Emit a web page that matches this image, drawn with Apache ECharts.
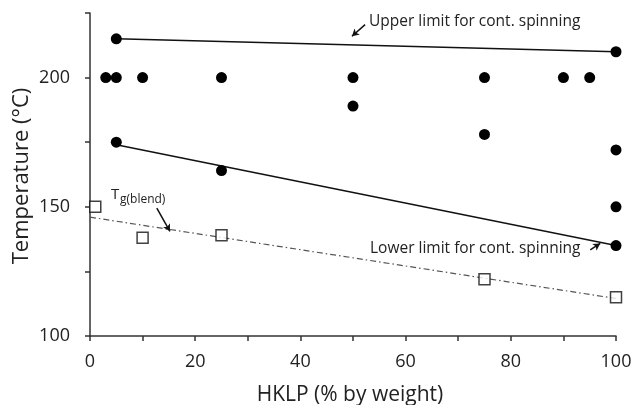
<!DOCTYPE html>
<html><head><meta charset="utf-8">
<script src="https://cdn.jsdelivr.net/npm/echarts@6/dist/echarts.min.js"></script>
<style>html,body{margin:0;padding:0;background:#fff}#c{width:636px;height:405px}</style>
</head><body><div id="c"></div>
<script>
// Spinning trials (filled circles): [HKLP %, temperature °C]
const spinPoints = [
  [5,215],[3,200],[5,200],[10,200],[25,200],[50,200],[75,200],[90,200],[95,200],
  [5,175],[25,164],[50,189],[75,178],[100,210],[100,172],[100,150],[100,135]
];
// Glass transition temperatures (open squares)
const tgPoints = [[1,150],[10,138],[25,139],[75,122],[100,115]];
// Limit lines
const upperLimit = [[5,215],[100,210]];
const lowerLimit = [[5,174],[100,135]];
const tgTrend = [[0,146],[100,114.5]];
// Annotation arrows (data coordinates)
const upperArrow = [[52.3,220.5],[49.8,216]];
const lowerArrow = [[95.1,133.3],[97,135.8]];
const tgArrow = [[12.7,149.5],[15.2,140.5]];
// Axis ticks
const xLabels = [0,20,40,60,80,100];
const yLabels = [100,150,200];

const FONT = '"Open Sans", sans-serif';
const chart = echarts.init(document.getElementById('c'), null, {renderer:'canvas'});

function arrowMark(a){
  return {
    silent:true, symbol:['none','arrow'], symbolSize:[6,7],
    lineStyle:{color:'#111',width:1.5,type:'solid'}, label:{show:false},
    data:[[{coord:a[0]},{coord:a[1]}]]
  };
}

chart.setOption({
  animation:false,
  backgroundColor:'#fff',
  grid:{left:90,right:20,top:13,bottom:69,containLabel:false},
  xAxis:{
    type:'value',min:0,max:100,interval:10,
    axisLine:{show:true,onZero:false,lineStyle:{color:'#333',width:1.5}},
    axisTick:{show:true,inside:false,length:5,lineStyle:{color:'#333',width:1.5}},
    axisLabel:{margin:17,fontSize:18,fontFamily:FONT,color:'#222',
      formatter:v=>xLabels.includes(v)?String(v):''},
    splitLine:{show:false}
  },
  yAxis:{
    type:'value',min:100,max:225,interval:25,
    axisLine:{show:true,lineStyle:{color:'#333',width:1.5}},
    axisTick:{show:true,inside:false,length:5,lineStyle:{color:'#333',width:1.5}},
    axisLabel:{margin:20,fontSize:18,fontFamily:FONT,color:'#222',
      formatter:v=>yLabels.includes(v)?String(v):''},
    splitLine:{show:false}
  },
  series:[
    {type:'line',data:tgTrend,symbol:'none',silent:true,
      lineStyle:{color:'#555',width:1.2,type:[6,3,1.5,3]},z:1},
    {type:'line',data:upperLimit,symbol:'none',silent:true,
      lineStyle:{color:'#111',width:1.5},z:2,markLine:arrowMark(upperArrow)},
    {type:'line',data:lowerLimit,symbol:'none',silent:true,
      lineStyle:{color:'#111',width:1.5},z:2,markLine:arrowMark(lowerArrow)},
    {type:'line',data:[],symbol:'none',markLine:arrowMark(tgArrow)},
    {type:'scatter',data:spinPoints,symbol:'circle',symbolSize:11,
      itemStyle:{color:'#000',opacity:1},z:5},
    {type:'scatter',data:tgPoints,symbol:'rect',symbolSize:11,
      itemStyle:{color:'#fff',borderColor:'#111',borderWidth:1.5},z:5}
  ],
  graphic:[
    {type:'text',left:369,top:14,style:{text:'Upper limit for cont. spinning',fontSize:15.5,fontFamily:FONT,fill:'#222'}},
    {type:'text',left:370,top:241,style:{text:'Lower limit for cont. spinning',fontSize:15.5,fontFamily:FONT,fill:'#222'}},
    {type:'text',left:111,top:187,style:{text:'T',fontSize:15,fontFamily:FONT,fill:'#222'}},
    {type:'text',left:120,top:194,style:{text:'g(blend)',fontSize:12,fontFamily:FONT,fill:'#222'}},
    {type:'text',x:350,y:395,style:{text:'HKLP (% by weight)',fontSize:21,fontFamily:FONT,fill:'#222',align:'center',verticalAlign:'middle'}},
    {type:'text',x:22,y:176,rotation:Math.PI/2,style:{text:'Temperature (°C)',fontSize:22,fontFamily:FONT,fill:'#222',align:'center',verticalAlign:'middle'}}
  ]
});
</script></body></html>
